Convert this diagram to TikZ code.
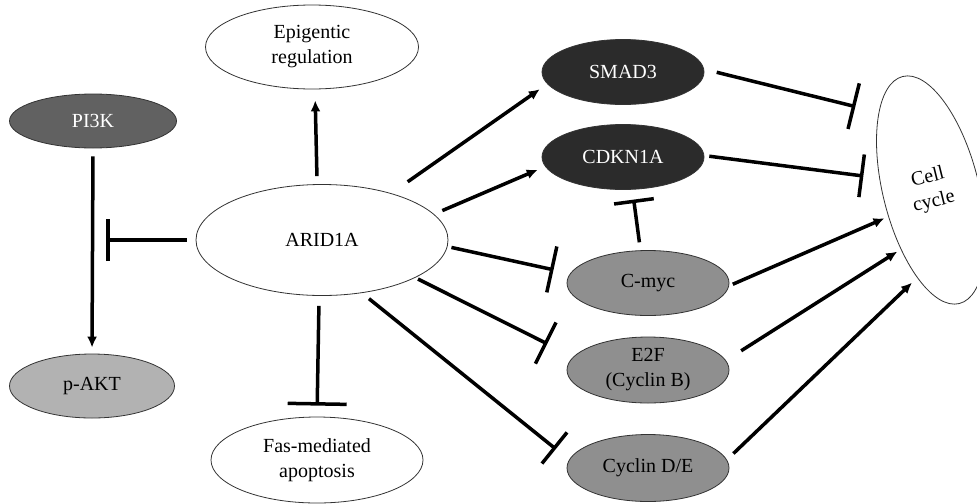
\documentclass[tikz,border=0pt]{standalone}
\usepackage{fontspec}
\setmainfont{Liberation Serif}
\usetikzlibrary{arrows.meta,shapes.geometric}
\definecolor{darkprot}{gray}{0.17}
\definecolor{pikgray}{gray}{0.38}
\definecolor{midgray}{gray}{0.56}
\definecolor{aktgray}{gray}{0.70}

\begin{document}
\begin{tikzpicture}[x=0.5pt,y=-0.5pt,
    prot/.style={ellipse,draw=black!80,line width=0.4pt,inner sep=0pt,align=center,
      font=\fontsize{10}{12.5}\selectfont,minimum width=81pt,minimum height=32.5pt},
    act/.style={line width=1.75pt,-{Latex[length=5.5pt,width=5pt]}},
    inhib/.style={line width=1.75pt,-{Bar[width=#1]}},inhib/.default=22pt]
        \useasboundingbox (0,0) rectangle (977,503);
        \node[prot,minimum width=106.5pt,minimum height=42pt] (epi) at (312,47) {Epigentic\\regulation};
        \node[prot,fill=pikgray,text=white,minimum width=83.5pt,minimum height=27pt] (pik) at (93,121) {PI3K};
        \node[prot,fill=aktgray,minimum width=82.5pt,minimum height=32pt] (akt) at (92,386) {p-AKT};
        \node[prot,minimum width=126pt,minimum height=55.5pt] (arid) at (322,240) {ARID1A};
        \node[prot,minimum width=106pt,minimum height=43pt] (fas) at (317,460) {Fas-mediated\\apoptosis};
        \node[prot,fill=darkprot,text=white] (smad) at (623,72) {SMAD3};
        \node[prot,fill=darkprot,text=white] (cdk) at (623,157) {CDKN1A};
        \node[prot,fill=midgray] (myc) at (648,283) {C-myc};
        \node[prot,fill=midgray,minimum height=33pt] (e2f) at (648,370) {E2F\\(Cyclin B)};
        \node[prot,fill=midgray,minimum height=33.5pt] (cyc) at (648,468) {Cyclin D/E};
        \node[prot,rotate=14,minimum width=48pt,minimum height=117pt] (cell) at (931,190) {Cell\\cycle};
        \coordinate (pkbar) at (106,238);
        \path[act] (arid.95) edge[shorten <=4pt,shorten >=5.5pt] (epi.274);
        \path[act] (pik.south) edge[shorten <=4pt,shorten >=3pt] (akt.north);
        \path[inhib=21pt] (arid.west) edge[shorten <=4.5pt] (arid.west -| pkbar);
        \path[act] (arid.34) edge[shorten <=10pt,shorten >=4.5pt] (smad.189);
        \path[act] (arid.13) edge[shorten <=4.5pt,shorten >=4pt] (cdk.187);
        \path[inhib=23.5pt] (arid.357) edge[shorten <=2pt,shorten >=8.5pt] (myc.173);
        \path[inhib=23pt] (arid.338) edge[shorten <=1.5pt,shorten >=14.5pt] (e2f.170);
        \path[inhib=20pt] (arid.307) edge[shorten <=4.5pt,shorten >=8.5pt] (cyc.174);
        \path[inhib=29.5pt] (arid.267) edge[shorten <=5pt,shorten >=5.5pt] (fas.north);
        \path[inhib=20pt] (myc.103) edge[shorten <=4pt,shorten >=5pt] (cdk.286);
        \path[inhib=23.5pt] (smad.2) edge[shorten <=6.5pt,shorten >=12pt] (cell.110);
        \path[inhib=21.5pt] (cdk.1) edge[shorten <=2.5pt,shorten >=8pt] (cell.153);
        \path[act] (myc.358) edge[shorten <=2pt,shorten >=2pt] (cell.198);
        \path[act] (e2f.7) edge[shorten <=9pt,shorten >=2pt] (cell.229);
        \path[act] (cyc.6) edge[shorten <=4.5pt,shorten >=3.5pt] (cell.247);
      \end{tikzpicture}
\end{document}
